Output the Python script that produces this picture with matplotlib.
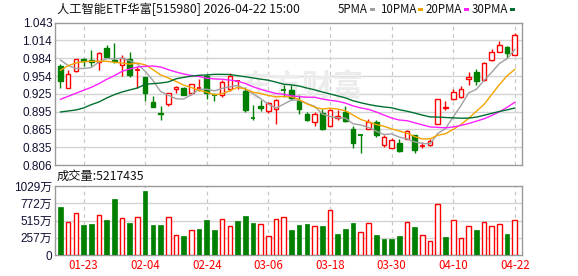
import matplotlib
matplotlib.use("Agg")
import matplotlib.pyplot as plt
from matplotlib.patches import Rectangle
import numpy as np

plt.rcParams['font.family'] = ['Liberation Sans', 'Noto Sans CJK SC', 'DejaVu Sans']

# ---------------- data ----------------
opens = [0.971, 0.9348, 0.962, 0.9826, 0.981, 0.977, 1.001, 0.9815, 0.972, 0.9826,
         0.9637, 0.9526, 0.911, 0.8932, 0.9082, 0.9321, 0.9343, 0.9265, 0.9343, 0.9537,
         0.9237, 0.9232, 0.933, 0.9454, 0.9293, 0.8849, 0.9037, 0.8965, 0.8987, 0.931,
         0.931, 0.9126, 0.891, 0.8782, 0.8926, 0.8704, 0.8849, 0.8943, 0.8654, 0.8565,
         0.8665, 0.8776, 0.8388, 0.8349, 0.8427, 0.8499, 0.8554, 0.8377, 0.8388, 0.8749,
         0.901, 0.9154, 0.9187, 0.9498, 0.9609, 0.947, 0.9815, 0.995, 1.0026, 0.9898]
closes = [0.9465, 0.957, 0.982, 0.9792, 0.977, 0.992, 0.9865, 0.9792, 0.9842, 0.9565,
          0.9648, 0.9265, 0.9032, 0.891, 0.9254, 0.936, 0.9232, 0.9404, 0.9354, 0.9259,
          0.9226, 0.9437, 0.954, 0.946, 0.897, 0.8838, 0.901, 0.9087, 0.9137, 0.930,
          0.918, 0.8987, 0.8815, 0.8904, 0.866, 0.8976, 0.8871, 0.8793, 0.8432, 0.856,
          0.8776, 0.8554, 0.852, 0.8482, 0.8293, 0.8621, 0.8305, 0.8388, 0.846, 0.9154,
          0.9032, 0.927, 0.932, 0.9526, 0.9459, 0.9765, 0.995, 1.0053, 0.9926, 1.0231]
highs = [0.9748, 0.9648, 0.983, 0.9842, 0.9976, 0.995, 1.0053, 1.0092, 0.9892, 0.995,
         0.969, 0.953, 0.921, 0.9043, 0.9254, 0.938, 0.9354, 0.9404, 0.9487, 0.957,
         0.9265, 0.9482, 0.9587, 0.948, 0.936, 0.9054, 0.9143, 0.911, 0.9165, 0.940,
         0.940, 0.922, 0.8943, 0.8943, 0.8987, 0.8987, 0.8982, 0.9043, 0.871, 0.8565,
         0.8832, 0.8804, 0.8565, 0.8515, 0.8499, 0.8638, 0.8565, 0.8443, 0.8499, 0.9154,
         0.9121, 0.9332, 0.937, 0.9609, 0.9654, 0.9776, 0.9998, 1.012, 1.0042, 1.0259]
lows = [0.9348, 0.9348, 0.961, 0.9704, 0.9704, 0.9648, 0.985, 0.9765, 0.9537, 0.9526,
        0.934, 0.9126, 0.903, 0.8815, 0.9048, 0.9265, 0.9221, 0.922, 0.9287, 0.9165,
        0.9132, 0.9193, 0.9287, 0.932, 0.8943, 0.8815, 0.8954, 0.8926, 0.8749, 0.919,
        0.9143, 0.8915, 0.8793, 0.8704, 0.8649, 0.8704, 0.8815, 0.8776, 0.8343, 0.8266,
        0.8654, 0.8527, 0.836, 0.8343, 0.8277, 0.8488, 0.8266, 0.8349, 0.8377, 0.8749,
        0.8971, 0.9137, 0.9182, 0.94, 0.9398, 0.9459, 0.9787, 0.9942, 0.9842, 0.9887]
volumes_wan = [714, 494, 629, 449, 464, 594, 524, 838, 549, 479,
               564, 958, 449, 449, 564, 295, 284, 369, 389, 524,
               374, 534, 429, 509, 584, 484, 464, 280, 534, 564,
               374, 449, 464, 429, 434, 669, 314, 389, 479, 344,
               474, 299, 240, 240, 284, 494, 419, 295, 210, 759,
               269, 519, 250, 429, 374, 494, 434, 464, 314, 521.7]
ma5 = [0.9809, 0.9717, 0.9667, 0.9667, 0.9683, 0.9774, 0.9833, 0.9828, 0.9838, 0.9797,
       0.9742, 0.9622, 0.947, 0.9284, 0.9222, 0.9164, 0.9158, 0.9232, 0.9321, 0.9322,
       0.9295, 0.9336, 0.9363, 0.9384, 0.9327, 0.9249, 0.9164, 0.9073, 0.9008, 0.9074,
       0.9143, 0.9138, 0.9084, 0.9037, 0.8909, 0.8868, 0.8845, 0.8841, 0.8746, 0.8726,
       0.8686, 0.8623, 0.8568, 0.8578, 0.8525, 0.8494, 0.8444, 0.8418, 0.8413, 0.8586,
       0.8668, 0.8861, 0.9047, 0.926, 0.9321, 0.9468, 0.9604, 0.9751, 0.9831, 0.9985]
ma10 = [0.9637, 0.9715, 0.9759, 0.9781, 0.9787, 0.9787, 0.9787, 0.977, 0.9759, 0.974,
        0.9758, 0.9728, 0.9649, 0.9561, 0.951, 0.9453, 0.939, 0.9351, 0.9303, 0.9272,
        0.923, 0.9247, 0.9298, 0.9353, 0.9325, 0.9272, 0.925, 0.9218, 0.9196, 0.9201,
        0.9196, 0.9151, 0.9079, 0.9023, 0.8992, 0.9006, 0.8992, 0.8963, 0.8892, 0.8818,
        0.8777, 0.8734, 0.8705, 0.8662, 0.8626, 0.859, 0.8534, 0.8493, 0.8496, 0.8556,
        0.8581, 0.8653, 0.8733, 0.8837, 0.8954, 0.9068, 0.9233, 0.9399, 0.9546, 0.9653]
ma20 = [0.9154, 0.9204, 0.9254, 0.9304, 0.9354, 0.9415, 0.9487, 0.9548, 0.962, 0.9659,
        0.9692, 0.9704, 0.9709, 0.9692, 0.9648, 0.9609, 0.9576, 0.9551, 0.9534, 0.9506,
        0.9494, 0.9488, 0.9474, 0.9457, 0.9418, 0.9363, 0.932, 0.9285, 0.925, 0.9237,
        0.9213, 0.9199, 0.9189, 0.9188, 0.9159, 0.9139, 0.9121, 0.9091, 0.9044, 0.901,
        0.8987, 0.8943, 0.8892, 0.8843, 0.8809, 0.8798, 0.8763, 0.8728, 0.8694, 0.8687,
        0.8679, 0.8694, 0.8719, 0.875, 0.879, 0.8829, 0.8884, 0.8946, 0.9021, 0.9105]
ma30 = [0.8943, 0.896, 0.8976, 0.901, 0.9065, 0.911, 0.9176, 0.9232, 0.9276, 0.931,
        0.9343, 0.9404, 0.9415, 0.9426, 0.9443, 0.9495, 0.952, 0.954, 0.9554, 0.956,
        0.957, 0.957, 0.9566, 0.9548, 0.953, 0.951, 0.949, 0.9472, 0.944, 0.9405,
        0.9395, 0.9375, 0.9342, 0.9312, 0.9276, 0.9244, 0.9211, 0.9178, 0.913, 0.9097,
        0.9068, 0.9044, 0.9027, 0.9013, 0.8981, 0.8956, 0.8925, 0.8891, 0.8861, 0.8858,
        0.8851, 0.8846, 0.8839, 0.8841, 0.8857, 0.8888, 0.892, 0.8952, 0.8978, 0.9009]

date_tick_idx = [3, 11, 19, 27, 35, 43, 51, 59]
date_tick_labels = ['01-23', '02-04', '02-24', '03-06', '03-18', '03-30', '04-10', '04-22']
price_tick_labels = ['0.806', '0.835', '0.865', '0.895', '0.925', '0.954', '0.984', '1.014', '1.043']
vol_tick_vals = [0, 257.25, 514.5, 771.75, 1029]
vol_tick_labels = ['0', '257万', '515万', '772万', '1029万']
title_text = '人工智能ETF华富[515980] 2026-04-22 15:00'
vol_label_text = '成交量:5217435'
ma_names = ['5PMA', '10PMA', '20PMA', '30PMA']

# ---------------- style ----------------
W, H = 578, 276
RED = '#ff0000'
GREEN = '#008000'
MA_COLORS = ['#a0a0a0', '#f5a300', '#ff20ff', '#007030']
GRID = '#d4d4d4'
SPINE = '#9a9a9a'
CJK = ['Noto Sans CJK SC', 'DejaVu Sans']

fig = plt.figure(figsize=(W / 100, H / 100), dpi=100)

def ax_rect(l, t, r, b):
    return [l / W, 1 - b / H, (r - l) / W, (b - t) / H]

ax = fig.add_axes(ax_rect(55, 22.7, 522, 165))
axv = fig.add_axes(ax_rect(55, 186.3, 522, 255))

n = len(closes)
x = np.arange(n)
xlim = (-0.71, n - 1 + 0.935)
bw = 0.6

ymin, ymax = 0.806, 1.043
for a in (ax, axv):
    a.set_xlim(*xlim)
    for s in a.spines.values():
        s.set_color(SPINE)
        s.set_linewidth(1.0)
    a.set_facecolor('white')
    for xi in date_tick_idx:
        a.axvline(xi, color='#c8c8c8', lw=0.9, ls=(0, (3, 3)), zorder=0)
    a.tick_params(length=0)

# price panel
ax.set_ylim(ymin, ymax)
pt = np.linspace(ymin, ymax, 9)
ax.set_yticks(pt)
ax.set_yticklabels(price_tick_labels, fontsize=8.5, color='#111133')
ax.tick_params(axis='y', pad=2)
for v in pt[1:-1]:
    ax.axhline(v, color=GRID, lw=1.0, zorder=0)
ax.set_xticks([])

ax.text(0.53, 0.55, '东方财富', transform=ax.transAxes, fontsize=22, color='#ececec',
        fontweight='bold', ha='center', va='center', family=CJK, zorder=0.5, style='italic')

for i in range(n):
    o, c, h, l = opens[i], closes[i], highs[i], lows[i]
    up = c >= o
    col = RED if up else GREEN
    ax.vlines(x[i], l, h, color=col, lw=1.0, zorder=3)
    if abs(c - o) < 0.0012:
        ax.hlines((o + c) / 2, x[i] - bw / 2, x[i] + bw / 2, color=col, lw=1.3, zorder=4)
    else:
        lo, hi = min(o, c), max(o, c)
        ax.add_patch(Rectangle((x[i] - bw / 2, lo), bw, hi - lo,
                               facecolor='white' if up else GREEN,
                               edgecolor=col, lw=1.0, zorder=4))

for ma, colr in zip([ma5, ma10, ma20, ma30], MA_COLORS):
    ax.plot(x, ma, color=colr, lw=1.0, zorder=5)

# volume panel
vmax = vol_tick_vals[-1]
axv.set_ylim(0, vmax)
axv.set_yticks(vol_tick_vals)
axv.set_yticklabels(vol_tick_labels, fontsize=8.5, color='#111133')
axv.tick_params(axis='y', pad=2)
for v in vol_tick_vals[1:-1]:
    axv.axhline(v, color=GRID, lw=1.0, zorder=0)

vol_up = [False] + [closes[i] >= closes[i - 1] for i in range(1, n)]
for i in range(n):
    if vol_up[i]:
        axv.add_patch(Rectangle((x[i] - bw / 2, 0), bw, volumes_wan[i],
                                facecolor='white', edgecolor=RED, lw=1.0, zorder=3))
    else:
        axv.add_patch(Rectangle((x[i] - bw / 2, 0), bw, volumes_wan[i],
                                facecolor=GREEN, edgecolor=GREEN, lw=0.5, zorder=3))

axv.set_xticks(date_tick_idx)
axv.set_xticklabels(date_tick_labels, fontsize=8.3, color=RED, family=CJK)
axv.tick_params(axis='x', pad=3)

# texts
fig.text(57 / W, 1 - 9.5 / H, title_text, fontsize=8.8, family=CJK, color='#111111',
         ha='left', va='center')
fig.text(57 / W, 1 - 176.5 / H, vol_label_text, fontsize=8.8, family=CJK, color='#111111',
         ha='left', va='center')

leg_x = [338, 380, 426, 472]
for name, colr, lx in zip(ma_names, MA_COLORS, leg_x):
    t = fig.text(lx / W, 1 - 9.5 / H, name, fontsize=8.3, family=CJK, color='#111111',
                 ha='left', va='center')
    fig.canvas.draw()
    bb = t.get_window_extent()
    sx = bb.x1 + 2
    fig.patches.append(Rectangle((sx / W, (H - 11) / H), 5 / W, 3 / H,
                                 transform=fig.transFigure, facecolor=colr,
                                 edgecolor='none'))

fig.savefig('out.png', dpi=100)
